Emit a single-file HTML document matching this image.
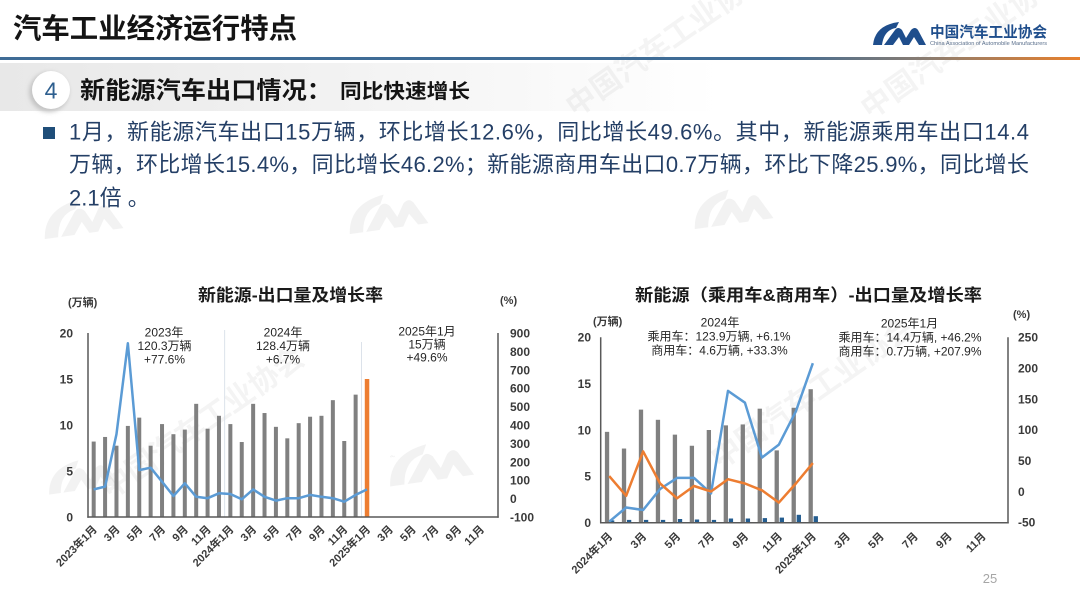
<!DOCTYPE html>
<html>
<head>
<meta charset="utf-8">
<style>
  html,body{margin:0;padding:0;background:#fff;}
  body{width:1080px;height:607px;overflow:hidden;}
  svg{display:block;}
  .f{font-family:"Liberation Sans","Noto Sans CJK SC",sans-serif;}
  .tk{font-family:"Liberation Sans","Noto Sans CJK SC",sans-serif;font-size:12px;font-weight:700;fill:#3a3a3a;}
  .an{font-family:"Liberation Sans","Noto Sans CJK SC",sans-serif;font-size:12px;fill:#262626;text-anchor:middle;}
  .xl{font-family:"Liberation Sans","Noto Sans CJK SC",sans-serif;font-size:11px;font-weight:700;fill:#3a3a3a;text-anchor:end;}
  .wm{font-family:"Liberation Sans","Noto Sans CJK SC",sans-serif;font-size:30px;font-weight:700;fill:#000;fill-opacity:0.045;}
</style>
</head>
<body>
<svg width="1080" height="607" viewBox="0 0 1080 607" xmlns="http://www.w3.org/2000/svg">
  <defs>
    <linearGradient id="hl" x1="0" x2="1" y1="0" y2="0">
      <stop offset="0" stop-color="#3f6c96"/>
      <stop offset="0.72" stop-color="#3f6c96"/>
      <stop offset="0.86" stop-color="#8c7d70"/>
      <stop offset="1" stop-color="#e8802c"/>
    </linearGradient>
    <linearGradient id="band" x1="0" x2="1" y1="0" y2="0">
      <stop offset="0" stop-color="#e8e8e8"/>
      <stop offset="0.5" stop-color="#f3f3f3"/>
      <stop offset="1" stop-color="#ffffff"/>
    </linearGradient>
    <filter id="sh" x="-50%" y="-50%" width="200%" height="200%">
      <feGaussianBlur stdDeviation="2"/>
    </filter>
    <g id="cmmark">
      <path d="M0,23 Q2,3 26,0 L23,6 Q11,8 9,23 Z"/>
      <path d="M11,23 L22,8 Q25,4 29,8 L33,16 L38,8 Q42,4 45,8 L53,23 L46,23 L41,15 L36,23 L30,23 L26,15 L20,23 Z"/>
    </g>
  </defs>

  <!-- Section band (behind watermarks) -->
  <rect x="0" y="63" width="720" height="48" fill="url(#band)"/>

  <!-- Watermarks -->
  <g fill="#000" fill-opacity="0.05">
    <use href="#cmmark" transform="translate(40,205) scale(1.5) rotate(-8)"/>
    <use href="#cmmark" transform="translate(345,200) scale(1.5) rotate(-8)"/>
    <use href="#cmmark" transform="translate(690,195) scale(1.5) rotate(-8)"/>
    <use href="#cmmark" transform="translate(385,450) scale(1.6) rotate(-8)"/>
    <use href="#cmmark" transform="translate(45,465) scale(1.3) rotate(-8)"/>
    <use href="#cmmark" transform="translate(390,455) scale(0.1)"/>
  </g>
  <text class="wm" transform="translate(575,118) rotate(-35)">中国汽车工业协会</text>
  <text class="wm" transform="translate(870,120) rotate(-35)">中国汽车工业协会</text>
  <text class="wm" transform="translate(110,500) rotate(-35)">中国汽车工业协会</text>
  <text class="wm" transform="translate(720,470) rotate(-35)">中国汽车工业协会</text>

  <!-- Header -->
  <text class="f" x="13" y="38" font-size="28" font-weight="700" fill="#141414" textLength="284" lengthAdjust="spacingAndGlyphs">汽车工业经济运行特点</text>
  <rect x="0" y="57" width="1080" height="3" fill="url(#hl)"/>

  <!-- Logo -->
  <path d="M873,45 Q875,25 899,22 L896,28 Q884,30 882,45 Z" fill="#1f4e8c"/>
  <path d="M884,45 L895,30 Q898,26 902,30 L906,38 L911,30 Q915,26 918,30 L926,45 L919,45 L914,37 L909,45 L903,45 L899,37 L893,45 Z" fill="#1f4e8c"/>
  <text class="f" x="930" y="37" font-size="15" font-weight="700" fill="#1f4e8c" textLength="117" lengthAdjust="spacingAndGlyphs">中国汽车工业协会</text>
  <text class="f" x="930" y="45" font-size="5" fill="#5a6f8c" textLength="117" lengthAdjust="spacingAndGlyphs">China Association of Automobile Manufacturers</text>

  <!-- Section header -->
  <circle cx="49" cy="92" r="20" fill="#c4c4c4" filter="url(#sh)"/>
  <circle cx="51" cy="90" r="19" fill="#ffffff"/>
  <text class="f" x="51" y="98.5" font-size="23" fill="#2e5f8f" text-anchor="middle">4</text>
  <text class="f" x="80" y="98.5" font-size="24" font-weight="700" fill="#141414" textLength="252" lengthAdjust="spacingAndGlyphs">新能源汽车出口情况：</text>
  <text class="f" x="340" y="98" font-size="20" font-weight="700" fill="#141414" textLength="130" lengthAdjust="spacingAndGlyphs">同比快速增长</text>

  <!-- Paragraph -->
  <rect x="43" y="127" width="12" height="12" fill="#1f4e79"/>
  <text class="f" x="69" y="139.5" font-size="22" fill="#243f66" textLength="960" lengthAdjust="spacing">1月，新能源汽车出口15万辆，环比增长12.6%，同比增长49.6%。其中，新能源乘用车出口14.4</text>
  <text class="f" x="69" y="172" font-size="22" fill="#243f66" textLength="960" lengthAdjust="spacing">万辆，环比增长15.4%，同比增长46.2%；新能源商用车出口0.7万辆，环比下降25.9%，同比增长</text>
  <text class="f" x="69" y="205.5" font-size="22" fill="#243f66">2.1倍 。</text>

  <!-- ================= LEFT CHART ================= -->
  <text class="f" x="198" y="301" font-size="17" font-weight="700" fill="#1a1a1a" textLength="185" lengthAdjust="spacingAndGlyphs">新能源-出口量及增长率</text>
  <text class="f" x="68" y="306" font-size="11" font-weight="700" fill="#3a3a3a">(万辆)</text>
  <text class="f" x="500" y="304" font-size="11" font-weight="700" fill="#3a3a3a">(%)</text>

  <g class="tk" text-anchor="end">
    <text x="73" y="337.5">20</text>
    <text x="73" y="383.5">15</text>
    <text x="73" y="429.5">10</text>
    <text x="73" y="475.5">5</text>
    <text x="73" y="521.5">0</text>
  </g>
  <g class="tk" text-anchor="start">
    <text x="510" y="337.5">900</text>
    <text x="510" y="355.9">800</text>
    <text x="510" y="374.3">700</text>
    <text x="510" y="392.7">600</text>
    <text x="510" y="411.1">500</text>
    <text x="510" y="429.5">400</text>
    <text x="510" y="447.9">300</text>
    <text x="510" y="466.3">200</text>
    <text x="510" y="484.7">100</text>
    <text x="510" y="503.1">0</text>
    <text x="510" y="521.5">-100</text>
  </g>

  <line x1="224.7" y1="330" x2="224.7" y2="517" stroke="#d3dbe5" stroke-width="0.8"/>
  <line x1="361.4" y1="342" x2="361.4" y2="517" stroke="#d3dbe5" stroke-width="0.8"/>

  <g fill="#808080">
    <rect x="91.69" y="441.56" width="4" height="75.44"/>
    <rect x="103.08" y="436.96" width="4" height="80.04"/>
    <rect x="114.47" y="445.7" width="4" height="71.3"/>
    <rect x="125.86" y="425.92" width="4" height="91.08"/>
    <rect x="137.25" y="417.64" width="4" height="99.36"/>
    <rect x="148.64" y="445.7" width="4" height="71.3"/>
    <rect x="160.03" y="424.08" width="4" height="92.92"/>
    <rect x="171.42" y="434.2" width="4" height="82.8"/>
    <rect x="182.81" y="429.6" width="4" height="87.4"/>
    <rect x="194.19" y="403.84" width="4" height="113.16"/>
    <rect x="205.58" y="428.68" width="4" height="88.32"/>
    <rect x="216.97" y="415.8" width="4" height="101.2"/>
    <rect x="228.36" y="424.08" width="4" height="92.92"/>
    <rect x="239.75" y="442.02" width="4" height="74.98"/>
    <rect x="251.14" y="403.84" width="4" height="113.16"/>
    <rect x="262.53" y="413.04" width="4" height="103.96"/>
    <rect x="273.92" y="426.84" width="4" height="90.16"/>
    <rect x="285.31" y="438.34" width="4" height="78.66"/>
    <rect x="296.69" y="423.16" width="4" height="93.84"/>
    <rect x="308.08" y="416.72" width="4" height="100.28"/>
    <rect x="319.47" y="415.8" width="4" height="101.2"/>
    <rect x="330.86" y="400.16" width="4" height="116.84"/>
    <rect x="342.25" y="441.0" width="4" height="76"/>
    <rect x="353.64" y="394.64" width="4" height="122.36"/>
  </g>
  <rect x="364.78" y="379" width="4.5" height="138" fill="#ed7d31"/>

  <polyline fill="none" stroke="#5b9bd5" stroke-width="2.5" stroke-linejoin="round"
    points="93.69,489.4 105.08,486.6 116.47,434.2 127.86,343.3 139.25,470.1 150.64,467.7 162.03,481.7 173.42,496.0 184.81,483.3 196.19,496.8 207.58,498.2 218.97,493.3 230.36,494.0 241.75,499.3 253.14,489.4 264.53,496.8 275.92,500.6 287.31,498.2 298.69,498.2 310.08,494.9 321.47,496.8 332.86,498.2 344.25,501.7 355.64,494.9 367.03,489.4"/>

  <g stroke="#595959" stroke-width="1.5" fill="none">
    <line x1="88" y1="333" x2="88" y2="517.7"/>
    <line x1="87.3" y1="517" x2="498.7" y2="517"/>
    <line x1="498" y1="333" x2="498" y2="517.7"/>
  </g>

  <text class="an" x="164" y="336.5">2023年</text>
  <text class="an" x="164.5" y="350">120.3万辆</text>
  <text class="an" x="164.5" y="363.5">+77.6%</text>
  <text class="an" x="283" y="336.5">2024年</text>
  <text class="an" x="283" y="350">128.4万辆</text>
  <text class="an" x="283" y="363.5">+6.7%</text>
  <text class="an" x="427" y="335.5">2025年1月</text>
  <text class="an" x="427" y="348.5">15万辆</text>
  <text class="an" x="427" y="361.5">+49.6%</text>

  <text class="xl" transform="translate(97.7,530) rotate(-45)">2023年1月</text>
  <text class="xl" transform="translate(120.5,530) rotate(-45)">3月</text>
  <text class="xl" transform="translate(143.3,530) rotate(-45)">5月</text>
  <text class="xl" transform="translate(166.0,530) rotate(-45)">7月</text>
  <text class="xl" transform="translate(188.8,530) rotate(-45)">9月</text>
  <text class="xl" transform="translate(211.6,530) rotate(-45)">11月</text>
  <text class="xl" transform="translate(234.4,530) rotate(-45)">2024年1月</text>
  <text class="xl" transform="translate(257.1,530) rotate(-45)">3月</text>
  <text class="xl" transform="translate(279.9,530) rotate(-45)">5月</text>
  <text class="xl" transform="translate(302.7,530) rotate(-45)">7月</text>
  <text class="xl" transform="translate(325.5,530) rotate(-45)">9月</text>
  <text class="xl" transform="translate(348.3,530) rotate(-45)">11月</text>
  <text class="xl" transform="translate(371.0,530) rotate(-45)">2025年1月</text>
  <text class="xl" transform="translate(393.8,530) rotate(-45)">3月</text>
  <text class="xl" transform="translate(416.6,530) rotate(-45)">5月</text>
  <text class="xl" transform="translate(439.4,530) rotate(-45)">7月</text>
  <text class="xl" transform="translate(462.1,530) rotate(-45)">9月</text>
  <text class="xl" transform="translate(484.9,530) rotate(-45)">11月</text>

  <!-- ================= RIGHT CHART ================= -->
  <text class="f" x="635" y="301" font-size="17" font-weight="700" fill="#1a1a1a" textLength="347" lengthAdjust="spacingAndGlyphs">新能源（乘用车&amp;商用车）-出口量及增长率</text>
  <text class="f" x="593" y="325" font-size="11" font-weight="700" fill="#3a3a3a">(万辆)</text>
  <text class="f" x="1013" y="318" font-size="11" font-weight="700" fill="#3a3a3a">(%)</text>

  <g class="tk" text-anchor="end">
    <text x="591" y="341.6">20</text>
    <text x="591" y="387.9">15</text>
    <text x="591" y="434.3">10</text>
    <text x="591" y="480.6">5</text>
    <text x="591" y="527">0</text>
  </g>
  <g class="tk" text-anchor="start">
    <text x="1018" y="341.6">250</text>
    <text x="1018" y="372.5">200</text>
    <text x="1018" y="403.3">150</text>
    <text x="1018" y="434.1">100</text>
    <text x="1018" y="465">50</text>
    <text x="1018" y="495.8">0</text>
    <text x="1018" y="526.6">-50</text>
  </g>

  <g fill="#808080">
    <rect x="604.89" y="431.85" width="4.3" height="90.85"/>
    <rect x="621.86" y="448.54" width="4.3" height="74.16"/>
    <rect x="638.83" y="409.61" width="4.3" height="113.09"/>
    <rect x="655.80" y="419.80" width="4.3" height="102.9"/>
    <rect x="672.77" y="434.64" width="4.3" height="88.06"/>
    <rect x="689.74" y="445.76" width="4.3" height="76.94"/>
    <rect x="706.71" y="430.0" width="4.3" height="92.7"/>
    <rect x="723.68" y="425.37" width="4.3" height="97.33"/>
    <rect x="740.65" y="424.44" width="4.3" height="98.26"/>
    <rect x="757.62" y="408.68" width="4.3" height="114.02"/>
    <rect x="774.59" y="450.39" width="4.3" height="72.31"/>
    <rect x="791.57" y="407.75" width="4.3" height="114.95"/>
    <rect x="808.54" y="389.21" width="4.3" height="133.49"/>
  </g>
  <g fill="#245d90">
    <rect x="609.99" y="520.4" width="4.3" height="2.3"/>
    <rect x="626.96" y="519.9" width="4.3" height="2.8"/>
    <rect x="643.93" y="519.9" width="4.3" height="2.8"/>
    <rect x="660.90" y="519.9" width="4.3" height="2.8"/>
    <rect x="677.87" y="519.0" width="4.3" height="3.7"/>
    <rect x="694.84" y="519.5" width="4.3" height="3.2"/>
    <rect x="711.81" y="519.9" width="4.3" height="2.8"/>
    <rect x="728.78" y="518.5" width="4.3" height="4.2"/>
    <rect x="745.75" y="518.5" width="4.3" height="4.2"/>
    <rect x="762.72" y="518.1" width="4.3" height="4.6"/>
    <rect x="779.69" y="517.6" width="4.3" height="5.1"/>
    <rect x="796.67" y="514.8" width="4.3" height="7.9"/>
    <rect x="813.64" y="516.2" width="4.3" height="6.5"/>
  </g>

  <polyline fill="none" stroke="#5b9bd5" stroke-width="2.5" stroke-linejoin="round"
    points="609.19,521.7 626.16,507.5 643.13,510.0 660.10,489.0 677.07,477.9 694.04,477.9 711.01,493.4 727.98,390.9 744.95,402.7 761.92,457.6 778.89,444.6 795.87,411.3 812.84,363.2"/>
  <polyline fill="none" stroke="#ed7d31" stroke-width="2.5" stroke-linejoin="round"
    points="609.19,476.1 626.16,495.8 643.13,451.4 660.10,483.5 677.07,498.3 694.04,486.0 711.01,491.5 727.98,479.2 744.95,483.5 761.92,490.3 778.89,502.6 795.87,483.5 812.84,463.1"/>

  <g stroke="#595959" stroke-width="1.5" fill="none">
    <line x1="600.7" y1="337.3" x2="600.7" y2="523.4"/>
    <line x1="600" y1="522.7" x2="1008.7" y2="522.7"/>
    <line x1="1008" y1="337.3" x2="1008" y2="523.4"/>
  </g>

  <text class="an" x="720" y="326.5">2024年</text>
  <text class="an" x="719" y="340.5">乘用车：123.9万辆, +6.1%</text>
  <text class="an" x="719.5" y="354.5">商用车：4.6万辆, +33.3%</text>
  <text class="an" x="909.5" y="327.5">2025年1月</text>
  <text class="an" x="910" y="341.5">乘用车：14.4万辆, +46.2%</text>
  <text class="an" x="910" y="355.5">商用车：0.7万辆, +207.9%</text>

  <text class="xl" transform="translate(613.2,537) rotate(-45)">2024年1月</text>
  <text class="xl" transform="translate(647.1,537) rotate(-45)">3月</text>
  <text class="xl" transform="translate(681.1,537) rotate(-45)">5月</text>
  <text class="xl" transform="translate(715.0,537) rotate(-45)">7月</text>
  <text class="xl" transform="translate(749.0,537) rotate(-45)">9月</text>
  <text class="xl" transform="translate(782.9,537) rotate(-45)">11月</text>
  <text class="xl" transform="translate(816.8,537) rotate(-45)">2025年1月</text>
  <text class="xl" transform="translate(850.8,537) rotate(-45)">3月</text>
  <text class="xl" transform="translate(884.7,537) rotate(-45)">5月</text>
  <text class="xl" transform="translate(918.7,537) rotate(-45)">7月</text>
  <text class="xl" transform="translate(952.6,537) rotate(-45)">9月</text>
  <text class="xl" transform="translate(986.5,537) rotate(-45)">11月</text>

  <text class="f" x="990" y="583" font-size="13" fill="#a6a6a6" text-anchor="middle">25</text>
</svg>
</body>
</html>
